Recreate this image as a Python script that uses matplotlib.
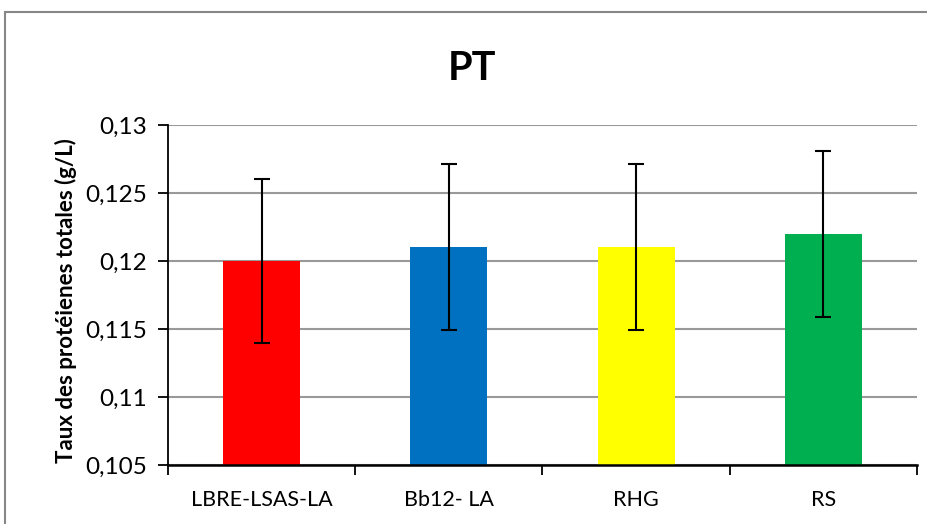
import matplotlib.pyplot as plt
import matplotlib.patches as mpatches
from matplotlib.ticker import FuncFormatter

plt.rcParams['font.family'] = ['Lato', 'DejaVu Sans']

# data
categories = ['LBRE-LSAS-LA', 'Bb12- LA', 'RHG', 'RS']
values = [0.120, 0.121, 0.121, 0.122]
errors = [0.006, 0.0061, 0.0061, 0.0061]
colors = ['#FF0000', '#0070C0', '#FFFF00', '#00B050']
yticks = [0.105, 0.11, 0.115, 0.12, 0.125, 0.13]

fig = plt.figure(figsize=(9.28, 5.24), dpi=100)
ax = fig.add_axes([168 / 928, 59 / 524, 749 / 928, 340 / 524])

# cadre gris du graphique (coupé à droite et en bas)
fig.patches.append(mpatches.Rectangle((5.5 / 928, -0.2), 1.2, (524 - 12.5) / 524 + 0.2,
                                      transform=fig.transFigure, fill=False,
                                      edgecolor='#878787', linewidth=1.5, zorder=10))

x = range(len(categories))
ax.bar(x, [v - yticks[0] for v in values], bottom=yticks[0], width=0.41, color=colors, zorder=2)
ax.errorbar(x, values, yerr=errors, fmt='none', ecolor='black', elinewidth=1.5,
            capsize=6, capthick=1.5, zorder=3)

ax.set_xlim(-0.5, len(categories) - 0.5)
ax.set_ylim(0.105, 0.13)
ax.set_yticks(yticks)
ax.yaxis.set_major_formatter(FuncFormatter(lambda v, p: ('%g' % round(v, 3)).replace('.', ',')))
ax.set_xticks(x)
ax.set_xticklabels(categories)
ax.set_xticks([i - 0.5 for i in range(len(categories) + 1)], minor=True)
ax.tick_params(axis='x', which='major', length=0, pad=18, labelsize=15.5)
ax.tick_params(axis='x', which='minor', length=7, width=1.3, direction='out')
ax.tick_params(axis='y', length=7, width=1.3, direction='out', labelsize=17.5, pad=8)

ax.yaxis.grid(True, color='#999999', linewidth=1.5, zorder=0)
ax.set_axisbelow(True)
for s in ['top', 'right']:
    ax.spines[s].set_visible(False)
ax.spines['left'].set_linewidth(1.3)
ax.spines['bottom'].set_linewidth(1.8)

ax.set_ylabel('Taux des protéienes totales (g/L)', fontsize=16, fontweight='bold')
ax.yaxis.set_label_coords(-0.122, 0.485)
fig.text(472 / 928, 1 - 69 / 524, 'PT', fontsize=28.5, fontweight='bold', ha='center', va='center')

fig.savefig('out.png', dpi=100)
